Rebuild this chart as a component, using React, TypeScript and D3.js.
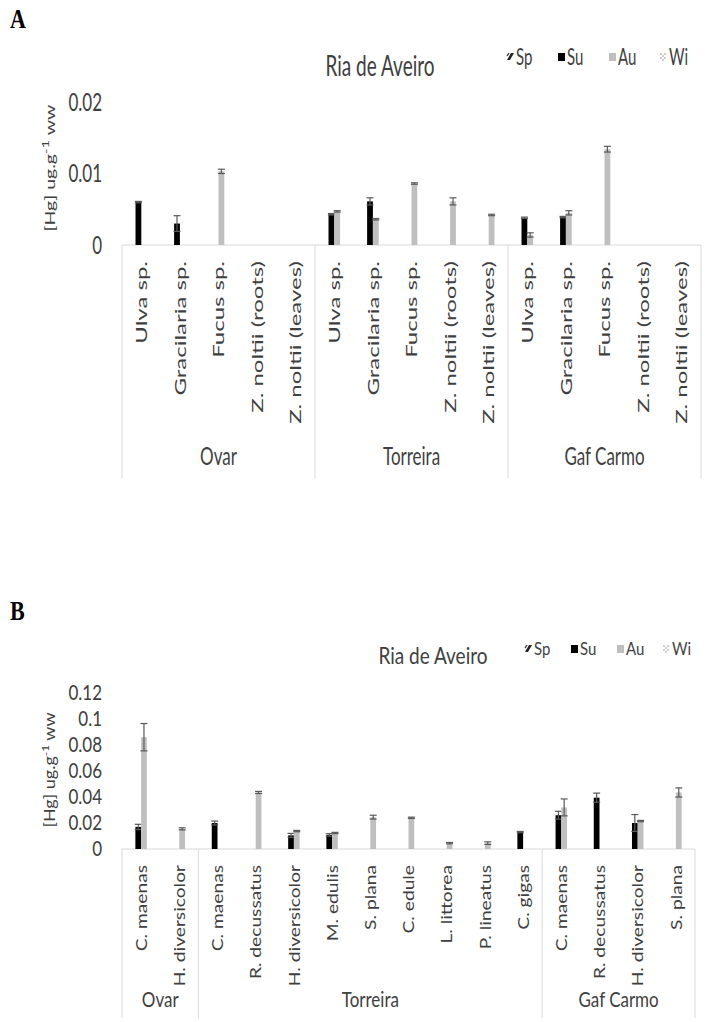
import React, { useEffect, useRef } from 'react';
import * as d3 from 'd3';

// Seasons in legend order
const seasons = ['Sp', 'Su', 'Au', 'Wi'];

// Panel A: macrophytes
const sitesA = ['Ovar', 'Torreira', 'Gaf Carmo'];
const speciesA = [
  ['Ulva sp.', 'Gracilaria sp.', 'Fucus sp.', 'Z. noltii (roots)', 'Z. noltii (leaves)'],
  ['Ulva sp.', 'Gracilaria sp.', 'Fucus sp.', 'Z. noltii (roots)', 'Z. noltii (leaves)'],
  ['Ulva sp.', 'Gracilaria sp.', 'Fucus sp.', 'Z. noltii (roots)', 'Z. noltii (leaves)'],
];
const suA = [0.006, 0.003, null, null, null, 0.0043, 0.0061, null, null, null, 0.0038, 0.0039, null, null, null];
const suErrA = [0.0001, 0.0011, 0, 0, 0, 0.0001, 0.0005, 0, 0, 0, 0.0001, 0.0001, 0, 0, 0];
const auA = [null, null, 0.0103, null, null, 0.0047, 0.0036, 0.0086, 0.0061, 0.0042, 0.0014, 0.0045, 0.0134, null, null];
const auErrA = [0, 0, 0.0003, 0, 0, 0.0001, 0.0001, 0.0001, 0.0005, 0.0001, 0.0003, 0.0003, 0.0004, 0, 0];

// Panel B: fauna
const sitesB = ['Ovar', 'Torreira', 'Gaf Carmo'];
const speciesB = [
  ['C. maenas', 'H. diversicolor'],
  ['C. maenas', 'R. decussatus', 'H. diversicolor', 'M. edulis', 'S. plana', 'C. edule', 'L. littorea', 'P. lineatus', 'C. gigas'],
  ['C. maenas', 'R. decussatus', 'H. diversicolor', 'S. plana'],
];
const suB = [0.017, null, 0.02, null, 0.0105, 0.0108, null, null, null, null, 0.013, 0.026, 0.0395, 0.02, null];
const suErrB = [0.002, 0, 0.0015, 0, 0.0015, 0.001, 0, 0, 0, 0, 0.0005, 0.003, 0.0035, 0.0065, 0];
const auB = [0.086, 0.0155, null, 0.0435, 0.0138, 0.0123, 0.0245, 0.024, 0.0045, 0.0045, null, 0.032, null, 0.0215, 0.0435];
const auErrB = [0.0105, 0.0008, 0, 0.0008, 0.0005, 0.0005, 0.0015, 0.0005, 0.0005, 0.001, 0, 0.0065, 0, 0.0005, 0.0035];

const ticksA = [0, 0.01, 0.02];
const ticksB = [0, 0.02, 0.04, 0.06, 0.08, 0.1, 0.12];

const FONT = "Lato, 'Open Sans', sans-serif";
const TEXT = '#404040';
const AXIS = '#d9d9d9';

interface Panel {
  letter: string;
  letterY: number;
  sites: string[];
  species: string[][];
  su: (number | null)[];
  suErr: number[];
  au: (number | null)[];
  auErr: number[];
  ticks: number[];
  yTop: number;
  yBottom: number;
  xLeft: number;
  xRight: number;
  titleX: number;
  titleY: number;
  legendX: number;
  legendStep: number;
  legendY: number;
  yTitleY: number;
  groupY: number;
  sepBottom: number;
  k: number; // the source picture is stretched vertically, so the text is too
}

function drawPanel(root: d3.Selection<SVGGElement, unknown, null, undefined>, p: Panel) {
  const g = root.append('g');
  const k = p.k;

  const keys: string[] = [];
  const labels: string[] = [];
  p.species.forEach((list, gi) => list.forEach((s, ci) => { keys.push(`${gi}-${ci}`); labels.push(s); }));

  const x = d3.scaleBand().domain(keys).range([p.xLeft, p.xRight]);
  const bw = x.bandwidth();
  const inner = d3.scaleBand().domain(seasons).range([bw * 0.2, bw * 0.8]);
  const y = d3.scaleLinear().domain([0, p.ticks[p.ticks.length - 1]]).range([p.yBottom, p.yTop]);

  // letter
  g.append('text')
    .attr('transform', `translate(10,${p.letterY}) scale(1,1.2)`)
    .style('font-family', "'Liberation Serif', serif").style('font-weight', 'bold').style('font-size', '22px')
    .text(p.letter);

  // title
  g.append('text')
    .attr('transform', `translate(${p.titleX},${p.titleY}) scale(1,${k})`)
    .attr('text-anchor', 'middle').attr('dy', '0.35em')
    .style('font-family', FONT).style('font-size', '19px').attr('fill', TEXT)
    .text('Ria de Aveiro');

  // legend
  seasons.forEach((s, i) => {
    const lx = p.legendX + i * p.legendStep;
    const item = g.append('g').attr('transform', `translate(${lx},${p.legendY})`);
    if (s === 'Sp') {
      item.append('path').attr('d', 'M0,3 L4,-4 L7,-4 L3,3 Z').attr('fill', '#222');
      item.append('path').attr('d', 'M0,-1 L2,-4').attr('stroke', '#222').attr('stroke-width', 1.2);
    } else if (s === 'Su') {
      item.append('rect').attr('x', 0).attr('y', -4).attr('width', 7).attr('height', 8).attr('fill', '#000');
    } else if (s === 'Au') {
      item.append('rect').attr('x', 0).attr('y', -4).attr('width', 7).attr('height', 8).attr('fill', '#bfbfbf');
    } else {
      [[1, -3], [5, -3], [3, -1], [1, 1], [5, 1], [3, 3]].forEach(([dx, dy]) =>
        item.append('circle').attr('cx', dx).attr('cy', dy).attr('r', 0.7).attr('fill', '#777'));
    }
    item.append('text')
      .attr('transform', `translate(9,0) scale(1,${k})`)
      .attr('dy', '0.35em')
      .style('font-family', FONT).style('font-size', '15px').attr('fill', TEXT)
      .text(s);
  });

  // y tick labels (no axis line, like the original)
  g.selectAll('text.tick')
    .data(p.ticks)
    .enter()
    .append('text')
    .attr('class', 'tick')
    .attr('transform', d => `translate(${p.xLeft - 20},${y(d)}) scale(1,${k})`)
    .attr('dy', '0.35em')
    .attr('text-anchor', 'end')
    .style('font-family', FONT).style('font-size', '17px').attr('fill', TEXT)
    .text(d => String(+d.toFixed(2)));

  // y title
  const yt = g.append('text')
    .attr('transform', `translate(50,${p.yTitleY}) scale(1,${k}) rotate(-90)`)
    .attr('text-anchor', 'middle').attr('dy', '0.35em')
    .style('font-family', FONT).style('font-size', `${p.k > 1.3 ? 13 : 15}px`).attr('fill', TEXT);
  yt.append('tspan').text('[Hg] ug.g');
  yt.append('tspan').attr('dy', -6).style('font-size', '10px').text('-1');
  yt.append('tspan').attr('dy', 6).text(' ww');

  // category axis
  g.append('line')
    .attr('x1', p.xLeft).attr('x2', p.xRight).attr('y1', y(0)).attr('y2', y(0))
    .attr('stroke', AXIS).attr('stroke-width', 1);

  let offset = 0;
  const bounds: number[] = [p.xLeft];
  p.species.forEach((list, gi) => {
    const first = x(keys[offset]) as number;
    const last = (x(keys[offset + list.length - 1]) as number) + bw;
    bounds.push(last);
    g.append('text')
      .attr('transform', `translate(${(first + last) / 2},${p.groupY}) scale(1,${k})`)
      .attr('dy', '0.35em')
      .attr('text-anchor', 'middle')
      .style('font-family', FONT).style('font-size', '17px').attr('fill', TEXT)
      .text(p.sites[gi]);
    offset += list.length;
  });
  bounds.forEach(bx => {
    g.append('line')
      .attr('x1', bx).attr('x2', bx).attr('y1', y(0)).attr('y2', p.sepBottom)
      .attr('stroke', AXIS).attr('stroke-width', 1);
  });

  keys.forEach((kk, i) => {
    const cx = (x(kk) as number) + bw / 2;
    g.append('text')
      .attr('transform', `translate(${cx},${y(0) + 16}) scale(1,${k}) rotate(-90)`)
      .attr('text-anchor', 'end').attr('dy', '0.35em')
      .style('font-family', FONT).style('font-size', '16px').attr('fill', TEXT)
      .text(labels[i]);
  });

  // bars + error bars
  const series = [
    { key: 'Su', vals: p.su, errs: p.suErr, color: '#000000' },
    { key: 'Au', vals: p.au, errs: p.auErr, color: '#bfbfbf' },
  ];
  series.forEach(s => {
    keys.forEach((kk, i) => {
      const v = s.vals[i];
      if (v === null) return;
      const bx = (x(kk) as number) + (inner(s.key) as number);
      g.append('rect')
        .attr('x', bx).attr('y', y(v))
        .attr('width', inner.bandwidth()).attr('height', y(0) - y(v))
        .attr('fill', s.color);
      const e = s.errs[i];
      if (!e) return;
      const ex = bx + inner.bandwidth() / 2;
      const eb = g.append('g').attr('stroke', '#595959').attr('stroke-width', 1.2);
      eb.append('line').attr('x1', ex).attr('x2', ex).attr('y1', y(v + e)).attr('y2', y(Math.max(0, v - e)));
      [v + e, Math.max(0, v - e)].forEach(ev =>
        eb.append('line').attr('x1', ex - 3.5).attr('x2', ex + 3.5).attr('y1', y(ev)).attr('y2', y(ev)));
    });
  });
}

const App: React.FC = () => {
  const svgRef = useRef<SVGSVGElement>(null);

  useEffect(() => {
    if (!svgRef.current) return;
    const svg = d3.select(svgRef.current);
    svg.selectAll('*').remove();
    const root = svg.append('g');

    drawPanel(root, {
      letter: 'A', letterY: 28,
      sites: sitesA, species: speciesA,
      su: suA, suErr: suErrA, au: auA, auErr: auErrA,
      ticks: ticksA, yTop: 102, yBottom: 245,
      xLeft: 122, xRight: 701,
      titleX: 380, titleY: 66,
      legendX: 507, legendStep: 51, legendY: 57,
      yTitleY: 168, groupY: 456, sepBottom: 478,
      k: 1.5,
    });

    drawPanel(root, {
      letter: 'B', letterY: 620,
      sites: sitesB, species: speciesB,
      su: suB, suErr: suErrB, au: auB, auErr: auErrB,
      ticks: ticksB, yTop: 693, yBottom: 849,
      xLeft: 122, xRight: 695,
      titleX: 433, titleY: 656,
      legendX: 525, legendStep: 46, legendY: 649,
      yTitleY: 770, groupY: 1000, sepBottom: 1018,
      k: 1.2,
    });
  }, []);

  return (
    <svg
      ref={svgRef}
      width={707}
      height={1022}
      style={{ position: 'absolute', left: 0, top: 0, background: '#fff' }}
    />
  );
};

export default App;
